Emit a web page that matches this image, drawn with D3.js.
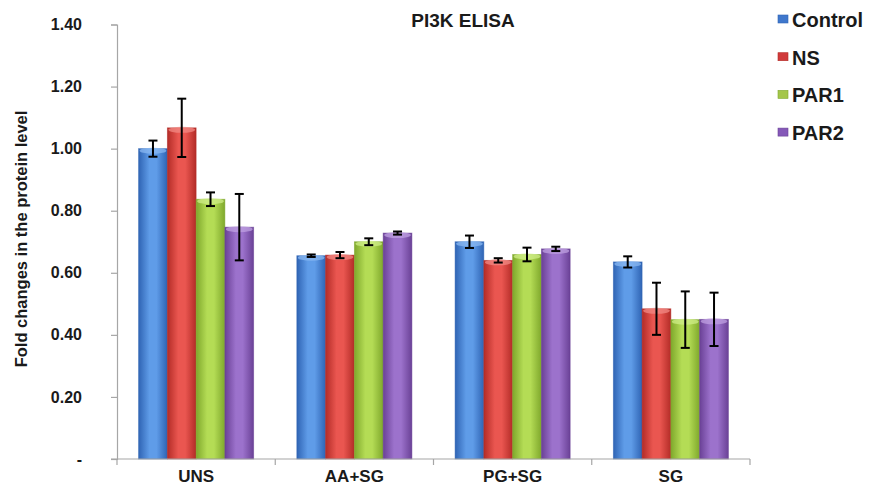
<!DOCTYPE html>
<html>
<head>
<meta charset="utf-8">
<script src="https://cdn.jsdelivr.net/npm/d3@7"></script>
<style>
  html, body { margin: 0; padding: 0; background: #fff; }
  svg { display: block; }
  text { font-family: Arial, "Liberation Sans", sans-serif; }
</style>
</head>
<body>
<svg id="chart" width="869" height="489"></svg>
<script>
// Treatment groups along the x axis
const categories = ["UNS", "AA+SG", "PG+SG", "SG"];
// Series shown in the legend
const seriesNames = ["Control", "NS", "PAR1", "PAR2"];
// Mean fold change per series, one value per category
const controlValues = [1.00, 0.655, 0.70, 0.635];
const nsValues      = [1.067, 0.657, 0.640, 0.484];
const par1Values    = [0.837, 0.700, 0.659, 0.449];
const par2Values    = [0.747, 0.728, 0.677, 0.450];
// Error (± standard deviation) per series, one value per category
const controlErrors = [0.026, 0.004, 0.020, 0.018];
const nsErrors      = [0.094, 0.010, 0.007, 0.084];
const par1Errors    = [0.022, 0.011, 0.022, 0.091];
const par2Errors    = [0.107, 0.005, 0.007, 0.086];
// Y axis tick values and their labels
const yTicks = [0, 0.2, 0.4, 0.6, 0.8, 1.0, 1.2, 1.4];
const yTickLabels = ["-", "0.20", "0.40", "0.60", "0.80", "1.00", "1.20", "1.40"];

const seriesValues = [controlValues, nsValues, par1Values, par2Values];
const seriesErrors = [controlErrors, nsErrors, par1Errors, par2Errors];

// Bar shading: edge, highlight and cap colours per series
const palette = [
  { edge: "#2f64b4", mid: "#5f9ce8", cap: "#8ab8f2", legend: "#3f77cc" },
  { edge: "#b32c27", mid: "#ea5650", cap: "#f28a84", legend: "#d0393a" },
  { edge: "#7fa82c", mid: "#b4dc55", cap: "#cfee88", legend: "#a4c64a" },
  { edge: "#6a4196", mid: "#9c72cc", cap: "#bfa0e2", legend: "#8558b8" }
];

const svg = d3.select("#chart");
const defs = svg.append("defs");

palette.forEach((p, i) => {
  const g = defs.append("linearGradient")
    .attr("id", "bar" + i).attr("x1", "0").attr("x2", "1").attr("y1", "0").attr("y2", "0");
  g.append("stop").attr("offset", "0%").attr("stop-color", p.edge);
  g.append("stop").attr("offset", "38%").attr("stop-color", p.mid);
  g.append("stop").attr("offset", "62%").attr("stop-color", p.mid);
  g.append("stop").attr("offset", "100%").attr("stop-color", p.edge);
});

const plot = { left: 117, right: 750, top: 24.5, bottom: 459 };

const y = d3.scaleLinear().domain([0, 1.4]).range([plot.bottom, plot.top]);
const x0 = d3.scaleBand().domain(categories).range([plot.left, plot.right]).paddingInner(0).paddingOuter(0);
const x1 = d3.scaleBand().domain(seriesNames).range([0, x0.bandwidth()]).paddingInner(0).paddingOuter(0.75);

// Y axis
const yAxis = d3.axisLeft(y)
  .tickValues(yTicks)
  .tickFormat((d, i) => yTickLabels[i])
  .tickSize(6)
  .tickPadding(29);
const yg = svg.append("g").attr("transform", `translate(${plot.left},0)`).call(yAxis);
yg.select(".domain").attr("stroke", "#a6a6a6").attr("stroke-width", 1.2);
yg.selectAll(".tick line").attr("stroke", "#a6a6a6").attr("stroke-width", 1.2);
yg.selectAll(".tick text")
  .attr("font-family", "Arial, 'Liberation Sans', sans-serif")
  .attr("font-size", 16).attr("font-weight", "bold").attr("fill", "#1a1a1a");

// Bars
const groups = svg.append("g").selectAll("g")
  .data(categories)
  .join("g")
  .attr("transform", d => `translate(${x0(d)},0)`);

const barData = (c, ci) => seriesNames.map((s, si) => ({
  series: s, si, value: seriesValues[si][ci], err: seriesErrors[si][ci]
}));

groups.each(function (c, ci) {
  const g = d3.select(this);
  const data = barData(c, ci);
  const bw = x1.bandwidth();

  g.selectAll("rect.bar")
    .data(data)
    .join("rect")
    .attr("class", "bar")
    .attr("x", d => x1(d.series))
    .attr("y", d => y(d.value))
    .attr("width", bw)
    .attr("height", d => y(0) - y(d.value))
    .attr("fill", d => `url(#bar${d.si})`)
    .attr("stroke", d => palette[d.si].edge)
    .attr("stroke-opacity", 0.6)
    .attr("stroke-width", 0.8);

  // lighter rounded cap at the top of each bar
  g.selectAll("ellipse.cap")
    .data(data)
    .join("ellipse")
    .attr("class", "cap")
    .attr("cx", d => x1(d.series) + bw / 2)
    .attr("cy", d => y(d.value) + 2)
    .attr("rx", bw / 2 - 1)
    .attr("ry", 3)
    .attr("fill", d => palette[d.si].cap)
    .attr("opacity", 0.75);

  // Error bars
  const eb = g.selectAll("g.err").data(data).join("g").attr("class", "err");
  eb.append("line")
    .attr("x1", d => x1(d.series) + bw / 2).attr("x2", d => x1(d.series) + bw / 2)
    .attr("y1", d => y(d.value + d.err)).attr("y2", d => y(d.value - d.err))
    .attr("stroke", "#000").attr("stroke-width", 2);
  eb.append("line")
    .attr("x1", d => x1(d.series) + bw / 2 - 4.5).attr("x2", d => x1(d.series) + bw / 2 + 4.5)
    .attr("y1", d => y(d.value + d.err)).attr("y2", d => y(d.value + d.err))
    .attr("stroke", "#000").attr("stroke-width", 2);
  eb.append("line")
    .attr("x1", d => x1(d.series) + bw / 2 - 4.5).attr("x2", d => x1(d.series) + bw / 2 + 4.5)
    .attr("y1", d => y(d.value - d.err)).attr("y2", d => y(d.value - d.err))
    .attr("stroke", "#000").attr("stroke-width", 2);
});

// X axis
const xg = svg.append("g").attr("transform", `translate(0,${plot.bottom})`);
xg.append("line")
  .attr("x1", plot.left - 6).attr("x2", plot.right)
  .attr("y1", 0).attr("y2", 0)
  .attr("stroke", "#a6a6a6").attr("stroke-width", 1.2);
const boundaries = categories.map(c => x0(c)).concat([x0(categories[categories.length - 1]) + x0.bandwidth()]);
xg.selectAll("line.tick")
  .data(boundaries)
  .join("line")
  .attr("class", "tick")
  .attr("x1", d => d).attr("x2", d => d)
  .attr("y1", 0).attr("y2", 6)
  .attr("stroke", "#a6a6a6").attr("stroke-width", 1.2);
xg.selectAll("text")
  .data(categories)
  .join("text")
  .attr("x", d => x0(d) + x0.bandwidth() / 2)
  .attr("y", 23)
  .attr("text-anchor", "middle")
  .attr("font-size", 17).attr("font-weight", "bold").attr("fill", "#1a1a1a")
  .text(d => d);

// Y axis title
svg.append("text")
  .attr("transform", `translate(21,239) rotate(-90)`)
  .attr("text-anchor", "middle")
  .attr("dominant-baseline", "central")
  .attr("font-size", 16.5).attr("font-weight", "bold").attr("fill", "#1a1a1a")
  .text("Fold changes in the protein level");

// Title
svg.append("text")
  .attr("x", 463).attr("y", 27)
  .attr("text-anchor", "middle")
  .attr("font-family", "Carlito, Lato, 'Open Sans', sans-serif")
  .attr("font-size", 19).attr("font-weight", "bold").attr("fill", "#1a1a1a")
  .text("PI3K ELISA");

// Legend
const legend = svg.append("g").attr("transform", "translate(778,19)");
const li = legend.selectAll("g").data(seriesNames).join("g")
  .attr("transform", (d, i) => `translate(0,${i * 37.7})`);
li.append("rect")
  .attr("x", 0).attr("y", -4).attr("width", 10).attr("height", 8)
  .attr("fill", (d, i) => palette[i].legend)
  .attr("stroke", (d, i) => palette[i].edge).attr("stroke-width", 0.6);
li.append("text")
  .attr("x", 14).attr("y", 1)
  .attr("dominant-baseline", "central")
  .attr("font-size", 20).attr("font-weight", "bold").attr("fill", "#1a1a1a")
  .text(d => d);
</script>
</body>
</html>
